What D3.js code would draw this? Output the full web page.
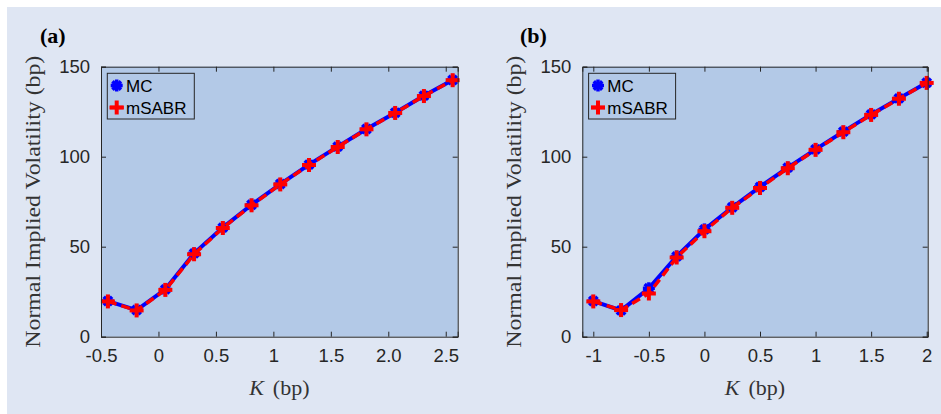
<!DOCTYPE html>
<html>
<head>
<meta charset="utf-8">
<script src="https://cdn.jsdelivr.net/npm/d3@7"></script>
<style>
  body { margin: 0; background: #fff; }
  svg { display: block; }
</style>
</head>
<body>
<svg id="chart" width="941" height="414"></svg>
<script>
// panel (a)
var strikesA = [-0.44, -0.19, 0.06, 0.31, 0.56, 0.81, 1.06, 1.31, 1.56, 1.81, 2.06, 2.31, 2.56];
var mcA      = [19.8, 14.8, 26.3, 46.3, 60.6, 73.3, 84.8, 95.6, 105.6, 115.4, 124.4, 133.9, 142.6];
var sabrA    = [19.6, 14.6, 26.0, 45.8, 60.4, 73.0, 84.6, 95.4, 105.4, 115.2, 124.3, 133.7, 142.5];
var xTicksA  = [-0.5, 0, 0.5, 1, 1.5, 2, 2.5];
var xLabelsA = ["-0.5", "0", "0.5", "1", "1.5", "2.0", "2.5"];

// panel (b)
var strikesB = [-1, -0.75, -0.5, -0.25, 0, 0.25, 0.5, 0.75, 1, 1.25, 1.5, 1.75, 2];
var mcB      = [19.8, 14.6, 26.9, 44.6, 59.6, 71.9, 83.2, 93.9, 104.1, 113.9, 123.5, 132.4, 141.1];
var sabrB    = [19.6, 14.8, 24.0, 44.0, 58.6, 71.6, 82.6, 93.6, 103.8, 113.6, 123.2, 132.2, 141.0];
var xTicksB  = [-1, -0.5, 0, 0.5, 1, 1.5, 2];
var xLabelsB = ["-1", "-0.5", "0", "0.5", "1", "1.5", "2"];

var yTicks = [0, 50, 100, 150];
var seriesNames = ["MC", "mSABR"];

var svg = d3.select("#chart");

// figure background
svg.append("rect")
  .attr("x", 7).attr("y", 7)
  .attr("width", 934).attr("height", 407)
  .attr("fill", "#dfe6f3");

function asterisk(g, x, y) {
  var r = 6;
  [[-r, 0, r, 0], [0, -r, 0, r], [-r*0.7, -r*0.7, r*0.7, r*0.7], [-r*0.7, r*0.7, r*0.7, -r*0.7]].forEach(function(s) {
    g.append("line")
      .attr("x1", x + s[0]).attr("y1", y + s[1])
      .attr("x2", x + s[2]).attr("y2", y + s[3])
      .attr("stroke", "#0000ff").attr("stroke-width", 3.5);
  });
}

function plus(g, x, y) {
  var r = 7;
  g.append("line").attr("x1", x - r).attr("y1", y).attr("x2", x + r).attr("y2", y)
    .attr("stroke", "#ff0000").attr("stroke-width", 4);
  g.append("line").attr("x1", x).attr("y1", y - r).attr("x2", x).attr("y2", y + r)
    .attr("stroke", "#ff0000").attr("stroke-width", 4);
}

function panel(opt) {
  var x = d3.scaleLinear().domain(opt.xDomain).range([opt.left, opt.right]);
  var y = d3.scaleLinear().domain([0, 150]).range([336.7, 66.7]);
  var g = svg.append("g");

  g.append("rect")
    .attr("x", opt.left).attr("y", y(150))
    .attr("width", opt.right - opt.left).attr("height", y(0) - y(150))
    .attr("fill", "#b3c9e7");

  var mcPts = opt.strikes.map(function(k, i) { return [k, opt.mc[i]]; });
  var sabrPts = opt.strikes.map(function(k, i) { return [k, opt.sabr[i]]; });
  var line = d3.line().x(function(d) { return x(d[0]); }).y(function(d) { return y(d[1]); });

  g.append("path").datum(mcPts)
    .attr("d", line).attr("fill", "none")
    .attr("stroke", "#0000ff").attr("stroke-width", 4);
  mcPts.forEach(function(d) { asterisk(g, x(d[0]), y(d[1])); });

  g.append("path").datum(sabrPts)
    .attr("d", line).attr("fill", "none")
    .attr("stroke", "#ff0000").attr("stroke-width", 3.5)
    .attr("stroke-dasharray", "9,5");
  sabrPts.forEach(function(d) { plus(g, x(d[0]), y(d[1])); });

  // axes, ticks inward on all four sides
  var bottom = d3.axisBottom(x).tickValues(opt.ticks).tickSize(-5).tickPadding(12)
    .tickFormat(function(d) { return opt.labels[opt.ticks.indexOf(d)]; });
  var top = d3.axisTop(x).tickValues(opt.ticks).tickSize(-5).tickFormat("");
  var left = d3.axisLeft(y).tickValues(yTicks).tickSize(-5).tickPadding(11);
  var right = d3.axisRight(y).tickValues(yTicks).tickSize(-5).tickFormat("");

  [[bottom, "translate(0," + y(0) + ")"], [top, "translate(0," + y(150) + ")"],
   [left, "translate(" + opt.left + ",0)"], [right, "translate(" + opt.right + ",0)"]].forEach(function(a) {
    var ax = g.append("g").attr("transform", a[1]).call(a[0]);
    ax.select(".domain").attr("stroke", "#262626").attr("stroke-width", 1);
    ax.selectAll(".tick line").attr("stroke", "#262626");
    ax.selectAll("text").attr("font-family", "Liberation Sans, Arial, sans-serif")
      .attr("font-size", 18.5).attr("fill", "#262626");
  });

  // legend
  var lg = g.append("g");
  lg.append("rect")
    .attr("x", opt.left + 6.3).attr("y", 73.3)
    .attr("width", 87).attr("height", 45.7)
    .attr("fill", "#b3c9e7").attr("stroke", "#262626").attr("stroke-width", 1);
  seriesNames.forEach(function(name, i) {
    var cy = 85.5 + i * 22;
    var cx = opt.left + 15.7;
    if (i == 0) {
      lg.append("line").attr("x1", cx - 5).attr("x2", cx + 5).attr("y1", cy).attr("y2", cy)
        .attr("stroke", "#0000ff").attr("stroke-width", 4);
      asterisk(lg, cx, cy);
    } else {
      lg.append("line").attr("x1", cx - 7).attr("x2", cx + 7).attr("y1", cy).attr("y2", cy)
        .attr("stroke", "#ff0000").attr("stroke-width", 3.5);
      plus(lg, cx, cy);
    }
    lg.append("text")
      .attr("x", opt.left + 25).attr("y", cy + 6)
      .attr("font-family", "Liberation Sans, Arial, sans-serif")
      .attr("font-size", 17).attr("fill", "#000")
      .text(name);
  });

  // panel letter
  g.append("text")
    .attr("x", opt.letterX).attr("y", 43)
    .attr("font-family", "Liberation Serif, Times New Roman, serif")
    .attr("font-weight", "bold").attr("font-size", 22)
    .text(opt.letter);

  // axis titles
  g.append("text")
    .attr("transform", "translate(" + opt.yLabelX + "," + (y(75)) + ") rotate(-90)")
    .attr("text-anchor", "middle")
    .attr("font-family", "Liberation Serif, Times New Roman, serif")
    .attr("font-size", 21).attr("fill", "#333")
    .attr("textLength", 292).attr("lengthAdjust", "spacingAndGlyphs")
    .text("Normal Implied Volatility (bp)");

  var xt = g.append("text")
    .attr("x", (opt.left + opt.right) / 2).attr("y", 395)
    .attr("text-anchor", "middle")
    .attr("font-family", "Liberation Serif, Times New Roman, serif")
    .attr("font-size", 22).attr("fill", "#333");
  xt.append("tspan").attr("font-style", "italic").text("K");
  xt.append("tspan").attr("dx", 9).text("(bp)");
}

panel({ letter: "(a)", letterX: 40, yLabelX: 40, left: 101, right: 457.7,
  xDomain: [-0.5, 2.604], strikes: strikesA, mc: mcA, sabr: sabrA, ticks: xTicksA, labels: xLabelsA });
panel({ letter: "(b)", letterX: 520, yLabelX: 520.7, left: 582.3, right: 927.7,
  xDomain: [-1.099, 2.009], strikes: strikesB, mc: mcB, sabr: sabrB, ticks: xTicksB, labels: xLabelsB });
</script>
</body>
</html>
